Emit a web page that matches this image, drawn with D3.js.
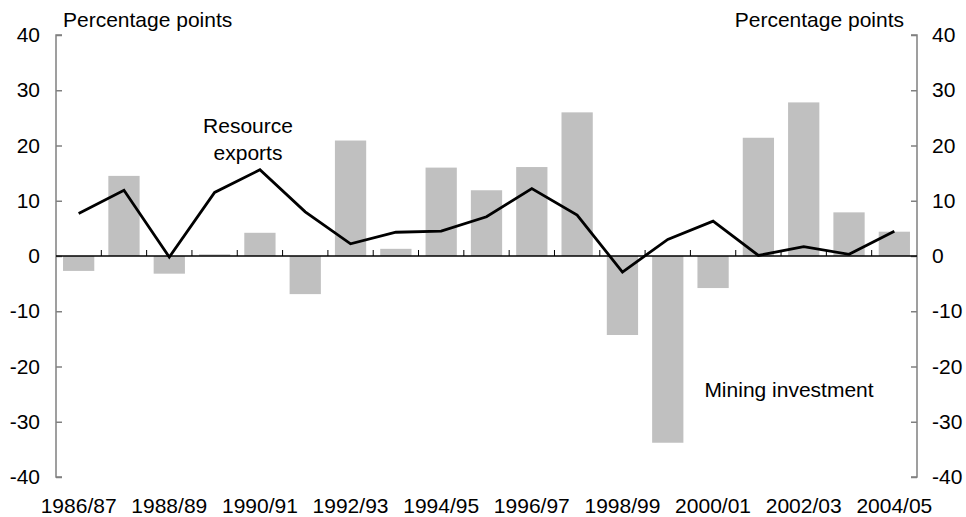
<!DOCTYPE html>
<html>
<head>
<meta charset="utf-8">
<script src="https://cdn.jsdelivr.net/npm/d3@7"></script>
<style>
    body { margin: 0; background: #fff; }
    text { font-family: "Liberation Sans", Arial, sans-serif; fill: #000; }
</style>
</head>
<body>
<div id="chart"></div>
<script>
    // Data
    const years = ["1986/87", "1987/88", "1988/89", "1989/90", "1990/91", "1991/92", "1992/93",
        "1993/94", "1994/95", "1995/96", "1996/97", "1997/98", "1998/99", "1999/00",
        "2000/01", "2001/02", "2002/03", "2003/04", "2004/05"];
    const miningInvestment = [-2.7, 14.5, -3.2, 0.3, 4.2, -6.9, 20.9, 1.3, 16.0, 11.9, 16.1, 26.0,
        -14.3, -33.8, -5.8, 21.4, 27.8, 7.9, 4.4];
    const resourceExports = [7.7, 11.9, -0.2, 11.5, 15.6, 8.0, 2.2, 4.3, 4.5, 7.1, 12.2, 7.4,
        -2.9, 3.0, 6.3, 0.1, 1.7, 0.3, 4.5];
    const yTicks = [-40, -30, -20, -10, 0, 10, 20, 30, 40];

    const width = 966;
    const height = 517;
    const margin = { left: 56, right: 917, top: 35, bottom: 477 };
    const fontSize = 21;

    const svg = d3.select("#chart")
        .append("svg")
        .attr("width", width)
        .attr("height", height);

    // Scales
    const xScale = d3.scaleBand()
        .domain(years)
        .range([margin.left, margin.right])
        .paddingInner(0.31)
        .paddingOuter(0.155);

    const xCell = d3.scaleBand()
        .domain(years)
        .range([margin.left, margin.right]);

    const yScale = d3.scaleLinear()
        .domain([-40, 40])
        .range([margin.bottom, margin.top]);

    const cx = d => xScale(d) + xScale.bandwidth() / 2;

    // Bars
    svg.append("g")
        .selectAll("rect")
        .data(years)
        .enter()
        .append("rect")
        .attr("x", d => xScale(d))
        .attr("width", xScale.bandwidth())
        .attr("y", (d, i) => yScale(Math.max(0, miningInvestment[i])))
        .attr("height", (d, i) => Math.abs(yScale(miningInvestment[i]) - yScale(0)))
        .attr("fill", "#c0c0c0");

    // Left axis
    const yLeft = svg.append("g")
        .attr("transform", "translate(" + margin.left + ",0)")
        .call(d3.axisRight(yScale).tickValues(yTicks).tickSize(6).tickFormat(""));
    yLeft.selectAll("line, path").attr("stroke", "#808080").attr("stroke-width", 1.5);
    yLeft.select(".domain").attr("d", "M6," + margin.top + "H0V" + margin.bottom + "H6");

    svg.append("g")
        .selectAll("text")
        .data(yTicks)
        .enter()
        .append("text")
        .attr("x", 40)
        .attr("y", d => yScale(d) + 7)
        .attr("text-anchor", "end")
        .style("font-size", fontSize + "px")
        .text(d => d);

    // Right axis
    const yRight = svg.append("g")
        .attr("transform", "translate(" + margin.right + ",0)")
        .call(d3.axisLeft(yScale).tickValues(yTicks).tickSize(6).tickFormat(""));
    yRight.selectAll("line, path").attr("stroke", "#808080").attr("stroke-width", 1.5);
    yRight.select(".domain").attr("d", "M-6," + margin.top + "H0V" + margin.bottom + "H-6");

    svg.append("g")
        .selectAll("text")
        .data(yTicks)
        .enter()
        .append("text")
        .attr("x", 932)
        .attr("y", d => yScale(d) + 7)
        .attr("text-anchor", "start")
        .style("font-size", fontSize + "px")
        .text(d => d);

    // Zero line and category ticks
    svg.append("line")
        .attr("x1", margin.left)
        .attr("x2", margin.right)
        .attr("y1", yScale(0))
        .attr("y2", yScale(0))
        .attr("stroke", "#000")
        .attr("stroke-width", 1.3);

    svg.append("g")
        .selectAll("line")
        .data(years.slice(1))
        .enter()
        .append("line")
        .attr("x1", d => xCell(d))
        .attr("x2", d => xCell(d))
        .attr("y1", yScale(0))
        .attr("y2", yScale(0) - 6)
        .attr("stroke", "#000")
        .attr("stroke-width", 1);

    // Line
    const line = d3.line()
        .x(d => cx(d[0]))
        .y(d => yScale(d[1]));

    svg.append("path")
        .datum(years.map((d, i) => [d, resourceExports[i]]))
        .attr("d", line)
        .attr("fill", "none")
        .attr("stroke", "#000")
        .attr("stroke-width", 2.8)
        .attr("stroke-linejoin", "miter");

    // X labels
    svg.append("g")
        .selectAll("text")
        .data(years.filter((d, i) => i % 2 === 0))
        .enter()
        .append("text")
        .attr("x", d => cx(d))
        .attr("y", 513)
        .attr("text-anchor", "middle")
        .style("font-size", fontSize + "px")
        .text(d => d);

    // Titles and annotations
    svg.append("text")
        .attr("x", 63)
        .attr("y", 27)
        .style("font-size", fontSize + "px")
        .text("Percentage points");

    svg.append("text")
        .attr("x", 904)
        .attr("y", 27)
        .attr("text-anchor", "end")
        .style("font-size", fontSize + "px")
        .text("Percentage points");

    const resourceLabel = svg.append("text")
        .attr("text-anchor", "middle")
        .style("font-size", fontSize + "px");
    resourceLabel.append("tspan").attr("x", 248).attr("y", 133).text("Resource");
    resourceLabel.append("tspan").attr("x", 248).attr("y", 160).text("exports");

    svg.append("text")
        .attr("x", 789)
        .attr("y", 397)
        .attr("text-anchor", "middle")
        .style("font-size", fontSize + "px")
        .text("Mining investment");
</script>
</body>
</html>
